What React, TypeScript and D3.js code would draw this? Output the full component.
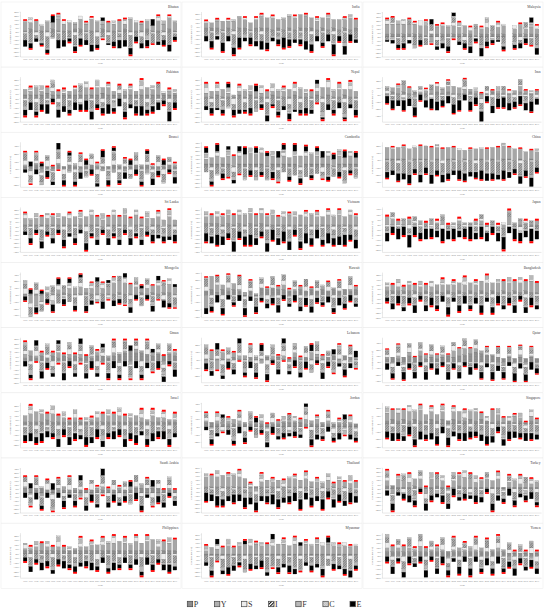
import * as d3 from 'd3';

const width = 550;
const height = 610;

const countries = [
  'Bhutan', 'India', 'Malaysia',
  'Pakistan', 'Nepal', 'Iran',
  'Brunei', 'Cambodia', 'China',
  'Sri Lanka', 'Vietnam', 'Japan',
  'Mongolia', 'Kuwait', 'Bangladesh',
  'Oman', 'Lebanon', 'Qatar',
  'Israel', 'Jordan', 'Singapore',
  'Saudi Arabia', 'Thailand', 'Turkey',
  'Philippines', 'Myanmar', 'Yemen',
];

const years = [
  '1990', '1991', '1992', '1993', '1994', '1995', '1996', '1997', '1998', '1999',
  '2000', '2001', '2002', '2003', '2004', '2005', '2006', '2007', '2008', '2009',
  '2010', '2011', '2012', '2013', '2014', '2015', '2016', '2017',
];

// one string per country, one char per year: 0-9 = +0..+9, a-i = -1..-9 (units of 2 %)
const pData = [
  '1211121 1122111 2111211 1211121', '2221212 2122212 1212221 2121212', '2222222 1222222 2212222 2022222',
  '2222322 2222222 3222222 2222222', '1121112 1211121 1121112 1211211', '1212121 1121211 1211121 1112111',
  '2232223 2322232 2232223 2322232', '2222212 2222122 2221222 2212222', '1111011 1010110 1011010 1101010',
  '1111111 1111111 0111101 1011011', '2221212 1212111 1111111 1111111', '0000000 0000000 0000000 000a0aa',
  '1111111 2111211 1112111 2121221', '3424343 a3a5454 4334343 4343434', '2222221 2121212 1212121 2121211',
  '2323232 3232323 3234565 5434343', '1111121 1211212 1121212 1231321', '3434545 3434545 6787654 3434343',
  '2222322 2222222 2222222 2222222', '3322222 2222222 3333222 2222222', '2323232 2323232 2323212 1212121',
  '3323222 2222222 2222223 3333222', '1111111 1111111 1111110 1010100', '2211121 1121112 1111111 1111111',
  '2222222 2222222 2222222 2222222', '1111111 1111111 1111111 1111111', '3333333 3333333 3333333 3222222',
];

const yData = [
  '5463547 4536475 3546375 4536475', '3345456 5456675 6778765 6756575', '6666665 6c45454 5243424 5035343',
  '3242322 1232434 3421232 3434121', '2324212 3232323 3424232 5434343', 'a3454b1 2343454 322c012 3b24201',
  '1a1b0a1 0a1b101 a0b1a10 1b0a101', '3454565 6767654 5456565 4545454', '8788889 9988887 6777889 9887666',
  '4345454 5454565 4565656 4545453', '4545565 6666565 5656565 5656565', '4322212 1212a12 1012a10 b412112',
  'afhe123 3445345 4589875 3456565', 'i953241 2a1b1a2 3a12a1b 2a1b012', '2322333 3334344 4445545 5555565',
  '2312a23 1212a12 a12a1b2 1a21b12', 'b5f4a32 2a1b121 2a31a42 2a1b0a1', '1a2b3a4 3232156 5432a1b c1a2b1a',
  '3454343 2121a12 4343323 2132211', '1a21232 1212a12 1212323 12a1a1a', '5656657 4545a56 2564a84 3a42a32',
  '1a1b0a1 2a1b0a1 21a1b21 2a1b010', '6767676 5cb3434 a554534 2525334', '3c54345 c544a46 6534545 a342323',
  '1124222 2a12233 3445435 4562546', '2434545 6565656 6565656 5654545', '2323213 2121a12 1212a12 1b1a1a1',
];

const sData = [
  'a2b1c0a 21b2a1c 0b1a2b1 c1a2b1a', '1a0a1b0 1a1b01a 0a1a0b1 a1b0a10', '21a2b13 a2b1a21 b2a13a2 102b1a2',
  'a1b1a2b 1a1b2a1 b1a2b1a 2b1a1b1', '3b2a1c2 b1a3b2a 1c2b1a2 b3a1b2a', '2a1b0a2 1b2a1b0 2a1c2b1 a2b1a1b',
  '3c2b4a3 c2b3a4c 2a3b2c3 a2b3c2a', '1b2a1c2 a1b2a1b 2a1b2a1 c2a1b2a', 'a1b0a1a 0a1b0a1 a0b1a0a 1a0b0a1',
  '2a1b2a1 b2a1c2a 1b2a1b2 a1b2a1b', '1a2b1a2 b1a2b1a 2b1a2b1 a2b1a2b', 'a1a0b1a 0a1b0a1 a0a1b0a 1a0b1a0',
  '4c3b2d3 a2b3a2c 3b2a3c2 b3a2c3b', '3b2c4a3 b2a3c2b 3a2b3c2 a3b2a3b', '1a2a1b1 a2a1b1a 2a1a2b1 a1a2b1a',
  '2b3a2c1 a3b2a1c 2a3b1a2 c3a2b1a', '3a2c3b2 a3b2c1a 3b2a3c2 b1a3b2a', '2c3b4a2 c3a2b4c 2a3c2b3 a2c4b2a',
  'a2b1a2b 1a2b1a2 b1a2b1a 2b1a2b1', '2a3b1a2 c1a2b3a 1b2a3b1 a2c1a2b', '1b2a3b1 a2c1b2a 3b1a2c1 b2a1b3a',
  '3b2a4c2 b3a2c4a 2b3c2a3 b2c3a2b', '1a2b1a2 a1b2a1b 2a1b2a1 b2a1b2a', '2a1b3a2 c1a2b1a 3b2a1c2 a1b3a2b',
  '2b1a2b3 a1b2a1c 2a3b1a2 b1a2c1a', '1a2b1a1 b2a1a2b 1a2b1a1 2b1a2b1', '3b2c1a3 b2a3c2b 1a3b2c3 a2b1a3c',
];

const iData = [
  'dfbegcd ecfbdge cdfbegc dbfecgb', 'cdbecfd bcedfcb dcebfdc ebdcfbd', 'b3dc2eb d4cbe3c bd2ec3b d0cb3de',
  'cbdca2b dcb3adc bca2dcb dbc2adb', 'dbecdbf cedbfce dbfcedb ecdbfcd', '2bd3ce1 b3dc2eb 4cbd3ec 2db3ce1',
  '4c3d2e4 c3d4b2e 3c4d2b3 e4c3d2b', 'cedbfcd ebdcfbe cdebfcd bedcfbd', 'fgeihfg ehgfieg fhegfih gefhgie',
  'cdbecdb ecdbfce bdcebdc ecbdcfb', 'dcebdfc bedcfbd cebfdcb edcfbed', 'b2a1b2c a1b2a0b a1b2a1b c2a1b1a',
  '3e4dc3f 2ed3fc4 e2d3fc2 e3dc2fe', '5d4e3c6 d4e3b5d 4c3e5d4 c3e4d5c', 'bcadbca cbdacbd acbdbca dbcadbc',
  '3c2d4b3 e2c3d4b 2d3c4e2 c3d2b3c', '4d3e2c5 d3e2c4d 3b2e3c4 d2e3c4b', '3d4c2e3 d4c3e2d 4b3d2e4 c3d2e3b',
  'cdbcadc bdcaedb cdabcdc bcdacbd', '2cd3be2 c3dbe2c d3cb2ed c2bd3ec', 'ecfdbge cfdbedc fbecgdb edcfbed',
  '3c4d2e3 b4c3d2e 4c3b2d4 e3c2d3b', 'cbdcebd bcdebcd ebcdbce dbcdecb', '2cb3dc2 bd3ce2b c3db2ec b2dc3be',
  'bdcbdec bdcebdc bedcbdc ebdcbed', 'dfcegdc fedcgfd ecgfdce fdcegfd', '3c2d4b3 c2e3b4c 2d3c4b2 e3c2d3b',
];

const fData = [
  '1a0b1a2 0a1b0a1 2a0b1a0 1b0a2a1', '0a1a0b1 a0a1a0b 1a0a1b0 a1a0b1a', '1a2a1b0 2a1b1a2 0a1b2a1 b0a1a2b',
  'a1a2a1b 1a0a1b2 a1b0a1a 2b1a0a1', '2a1b2a1 a2b1a2a 1b2a1a2 b1a2b1a', '0a1a0a1 b0a1a0a 1a0b0a1 a0a1b0a',
  '1a1b1a1 a1b1a1a 1b1a1a1 b1a1a1b', '2b1a2b1 a2b1a2b 1a2b1a2 b1a2b1a', 'a0a1a0a 0a1a0a0 a1a0a0a 1a0a0a1',
  '1b2a1b2 a1b2a1b 2a1b2a1 b2a1b2a', '2a1b2a1 b2a1b2a 1b2a1b2 a1b2a1b', '0a0a1a0 a0a1a0a 0a1a0a0 a1a0a0a',
  '2b1a2c1 a2b1a2b 1a2b1c2 a1b2a1b', '1a0a1a0 a1a0a1a 0a1a0a1 a0a1a0a', '1a2a1a2 a1a2a1a 2a1a2a1 a2a1a2a',
  '1b1a1b1 a1b1a1b 1a1b1a1 b1a1b1a', '2a1b2a1 b2a1b2a 1b2a1b2 a1b2a1b', '1a1a1a1 a1a1a1a 1a1a1a1 a1a1a1a',
  'a1b1a2b 1a2b1a1 b2a1b1a 2b1a1b2', '1b2a1b2 a1b2a1b 2a1b2a1 b2a1b2a', '2a1b1a2 b1a2a1b 2a1b1a2 b1a2a1b',
  '0a1a0a1 a0a1a0a 1a0a1a0 a1a0a1a', '1a2b1a2 b1a2b1a 2b1a2b1 a2b1a2b', '2b1a2b1 a2b1a2b 1a2b1a2 b1a2b1a',
  '1a2a1b2 a1b2a1a 2b1a2a1 b2a1a2b', '2a1b2a1 b2a1b2a 1b2a1b2 a1b2a1b', '1a1b1a1 b1a1b1a 1b1a1b1 a1b1a1b',
];

const cData = [
  '0100a01 00a0100 a010010 0a01000', '00a0010 a0010a0 010a001 00a0100', '0a01000 10a0010 0a00100 00a0010',
  'a010010 0a01001 00a0100 10a0010', '0010a00 100a001 0a01000 a010010', '100a010 0a0010a 0010a01 000a010',
  '0a10a01 0a10a01 0a10a01 0a10a01', '10a0100 a0100a0 100a010 0a0100a', '00a000a 000a000 a000a00 0a000a0',
  '010a010 0a010a0 10a010a 010a010', '0a010a0 10a010a 010a010 a010a01', 'a000a00 0a000a0 00a000a 000a000',
  '10a0010 a0100a0 0100a01 00a0100', '0a00100 a0010a0 0100a00 10a0010', '000a000 a000a00 0a000a0 00a000a',
  '1a0010a 010a001 0a010a0 0100a01', '0a01000 a010a00 100a010 a0010a0', 'a010a01 0a010a0 10a010a 010a010',
  '010a000 10a0010 a001000 a0100a0', '0a000a0 0100a00 0a0010a 0010a00', '100a010 a0010a0 010a001 a0100a0',
  '0a010a0 010a001 a0010a0 10a0010', '00a0010 a0010a0 0100a00 10a0010', 'a0010a0 010a001 0a0100a 0010a01',
  '010a001 0a010a0 01a0010 a0010a0', '0a0010a 00100a0 10a0010 a0100a0', '10a0010 a0100a0 010a001 0a010a0',
];

const eData = [
  'dcbab4e dbcdcdb 2aceddc cd4bcdb', 'cdbecdf bdcedbc fdbcedc bdfcedb', 'abbcb0c 03bcc2b cdbecba b0bcc3d',
  'cdbcebd cbdcedb cebdcbd ebcdbec', 'bcab2cb ac3bcab bcabcb2 acbcabc', 'efdgefd egfdefg dfegdef gedfegd',
  'b3c2db4 c2bd3cb 4c2bd3c b2dc3bd', '3b4c2b3 4c3b2d4 3b4c3b2 4b3c4b3', 'dcedfce dfcedcf ecdfedc fdcedfc',
  'bcbdbcb dbcbdbc bdbcbdb cbdbcbd', 'edfecfd efdcefd fecdfde cfdefce', 'dcedfdc edcfdec dfcedcd fcedcfd',
  'c3d2ce4 d3c2dc3 e2dc3dc 2cd3ec2', 'dcedcbd ecdbcde cbdcedc bdcecdb', 'bcdbcdb cdbcdbc dbcdbcd bcdbcdb',
  'cb3dcb2 dcb3cdb 2cdbc3d bc2dcbd', 'dc4bdc3 bdc4dbc 3bdcd4b dc3bdc4', 'edcfdec fdecfde cfdecfd ecfdefd',
  'cdcdcbd cdcbdcd cbdcdcd bcdcdcb', 'bcb2cbd cb3bcdb cbcb2dc bcbd3cb', 'dedcede cdedecd edcdedc dedcedc',
  'c3dbc4c dbc3cdb 4cdbc3d cb4dcbc', 'edfdced fdecdfe cdefdec fdedcfd', 'cdbcdcb dcbdcdb cbdcbdc bdcbcdb',
  'bcbdcbc dbcbcdb cbdbcbc bdcbcdb', 'bc3bdcb 2cbdb3c bdc2bcb d3cbcdb', 'cdbcdbc dbcdcbd cdcbdcd bcdcbdc',
];

// red end marks
const rData = [
  '1a1aa11 1aaa11a a1a11aa 1aa1a1a', '1a1a1aa 1a11a1a aa1a1a1 a1aa1a1', '11aa11a 1a11aa1 a1a1aa1 a0a1aa1',
  'a1aa1a1 1a1aa1a a1a1a1a 1aa1a1a', '1a1a1a1 aa1a1aa 1a1aa1a a1a1a1a', 'aa1a1aa 1a1a1aa 1aa1a1a a1aa1a1',
  '1a11a1a a1a11a1 1a1a11a a11a1a1', '1a1aa1a 1a1a1aa 1a1a1a1 aa1a1a1', 'a1a1aa1 a1a1a1a a1aa1a1 a1a1a1a',
  '1aa1a1a a1a1aa1 a1a1a1a 1aa1a1a', 'a1a1a1a aa1a1a1 a1aa1a1 a1a1aa1', '1a1a1aa 1a1a1a1 aa1a1a1 a1aa1a1',
  'a1a1aa1 a1a1a1a 1a1aa1a 1a1a1aa', '1a1a1a1 a1aa1a1 a1a1a1a a1a1aa1', 'a1a1a1a 1aa1a1a 1a1a1aa 1a1a1a1',
  '1aa1a1a 1a1a1a1 aa1a1a1 a1aa1a1', 'a1a1a1a a1a1aa1 a1a1a1a 1aa1a1a', '1a1aa1a 1a1a1a1 a1aa1a1 a1a1a1a',
  'a1aa1a1 a1a1a1a 1a1a1aa 1a1a1a1', '1a1a1a1 aa1a1a1 a1a1aa1 a1a1a1a', 'a1a1aa1 a1a1a1a 1aa1a1a 1a1a1a1',
  '1a1a1a1 a1aa1a1 a1a1a1a a1aa1a1', 'a1aa1a1 a1a1a1a 1a1a1a1 aa1a1a1', '1a1a1aa 1a1a1a1 a1a1aa1 a1a1a1a',
  'a1a1a1a 1aa1a1a 1a1a1a1 a1aa1a1', '1aa1a1a 1a1a1aa 1a1a1a1 a1a1a1a', 'a1a1a1a 1a1aa1a 1a1a1a1 aa1a1a1',
];

const legendKeys = ['P', 'Y', 'S', 'I', 'F', 'C', 'E'];
const keys = [...legendKeys, 'R'];

const decode = (s: string) =>
  s.replace(/ /g, '').split('').map(ch => (ch >= 'a' ? -(ch.charCodeAt(0) - 96) : +ch));

const series: Record<string, number[][]> = {
  P: pData.map(decode), Y: yData.map(decode), S: sData.map(decode), I: iData.map(decode),
  F: fData.map(decode), C: cData.map(decode), E: eData.map(decode), R: rData.map(decode),
};

const fills: Record<string, string> = {
  P: 'url(#patP)', Y: 'url(#patY)', S: '#ececec', I: 'url(#patI)',
  F: '#b8b8b8', C: 'url(#patC)', E: '#000000', R: '#ff0000',
};

function Panel({ idx }: { idx: number }) {
  const col = idx % 3;
  const row = Math.floor(idx / 3);
  const px = 1 + col * 181;
  const py = 4 + row * 65.15;
  const left = 21.5 + col * 181;
  const right = left + 157;
  const top = py + 8;
  const bottom = py + 53;

  const rows = years.map((yr, j) => {
    const o: any = { year: yr };
    keys.forEach(k => { o[k] = (series[k][idx][j] || 0) * 2; });
    return o;
  });
  const stacked = d3.stack<any>().keys(keys).offset(d3.stackOffsetDiverging)(rows);
  const lo = d3.min(stacked, s => d3.min(s, d => d[0])) ?? -10;
  const hi = d3.max(stacked, s => d3.max(s, d => d[1])) ?? 10;
  const y = d3.scaleLinear().domain([lo - 1, hi + 1]).range([bottom, top]);
  const x = d3.scaleBand().domain(years).range([left, right]).padding(0.3);
  const ticks = y.ticks(8);

  return (
    <g>
      <rect x={px} y={py - 2} width={180} height={65} fill="#fff" stroke="#e6e6e6" strokeWidth={0.4} />
      <text x={right} y={py + 4} fontSize={3.6} textAnchor="end" fill="#444" fontFamily="Liberation Serif">
        {countries[idx]}
      </text>
      <line x1={left - 1} x2={left - 1} y1={top} y2={bottom} stroke="#c8c8c8" strokeWidth={0.4} />
      <line x1={left - 1} x2={right + 1} y1={bottom} y2={bottom} stroke="#c8c8c8" strokeWidth={0.4} />
      {ticks.map(t => (
        <g key={t}>
          <line x1={left - 2} x2={left - 1} y1={y(t)} y2={y(t)} stroke="#bbb" strokeWidth={0.3} />
          <text x={left - 2.5} y={y(t) + 0.9} fontSize={2.6} textAnchor="end" fill="#666" fontFamily="Liberation Serif">
            {t}%
          </text>
        </g>
      ))}
      <text
        transform={`translate(${left - 11},${(top + bottom) / 2}) rotate(-90)`}
        fontSize={2.6} textAnchor="middle" fill="#666" fontFamily="Liberation Serif"
      >
        Contribution (%)
      </text>
      {stacked.map(s => (
        <g key={s.key} fill={fills[s.key]}>
          {s.map((d, j) => {
            const h = Math.abs(y(d[0]) - y(d[1]));
            if (h < 0.01) return null;
            return (
              <rect
                key={j}
                x={x(years[j])}
                y={Math.min(y(d[0]), y(d[1]))}
                width={x.bandwidth()}
                height={h}
                stroke={s.key === 'R' ? 'none' : '#4a4a4a'}
                strokeWidth={0.15}
              />
            );
          })}
        </g>
      ))}
      {years.map(yr => (
        <text key={yr} x={(x(yr) ?? 0) + x.bandwidth() / 2} y={py + 56.3} fontSize={2.2}
          textAnchor="middle" fill="#777" fontFamily="Liberation Serif">
          {yr}
        </text>
      ))}
      <text x={(left + right) / 2} y={py + 60.3} fontSize={2.8} textAnchor="middle" fill="#666" fontFamily="Liberation Serif">
        Year
      </text>
    </g>
  );
}

export default function App() {
  const legendX = d3.scalePoint().domain(legendKeys).range([187.3, 350]);
  return (
    <svg width={width} height={height} style={{ position: 'absolute', left: 0, top: 0, background: '#fff' }}>
      <defs>
        <pattern id="patP" width={1.6} height={1.6} patternUnits="userSpaceOnUse">
          <rect width={1.6} height={1.6} fill="#8a8a8a" />
          <rect width={0.6} height={0.6} fill="#a2a2a2" />
        </pattern>
        <pattern id="patY" width={1.5} height={1.5} patternUnits="userSpaceOnUse">
          <rect width={1.5} height={1.5} fill="#9f9f9f" />
          <path d="M0,0.75H1.5M0.75,0V1.5" stroke="#b6b6b6" strokeWidth={0.3} />
        </pattern>
        <pattern id="patI" width={1.2} height={1.2} patternUnits="userSpaceOnUse" patternTransform="rotate(45)">
          <rect width={1.2} height={1.2} fill="#b4b4b4" />
          <rect width={0.4} height={1.2} fill="#666" />
        </pattern>
        <pattern id="patC" width={1.6} height={1.6} patternUnits="userSpaceOnUse" patternTransform="rotate(-45)">
          <rect width={1.6} height={1.6} fill="#d6d6d6" />
          <rect width={0.3} height={1.6} fill="#999" />
        </pattern>
        <pattern id="patIL" width={2.4} height={2.4} patternUnits="userSpaceOnUse" patternTransform="rotate(45)">
          <rect width={2.4} height={2.4} fill="#ffffff" />
          <rect width={1.1} height={2.4} fill="#111" />
        </pattern>
        <pattern id="patYL" width={1.8} height={1.8} patternUnits="userSpaceOnUse">
          <rect width={1.8} height={1.8} fill="#9a9a9a" />
          <path d="M0,0.9H1.8M0.9,0V1.8" stroke="#d0d0d0" strokeWidth={0.4} />
        </pattern>
      </defs>
      {countries.map((c, i) => (
        <Panel key={c} idx={i} />
      ))}
      {legendKeys.map(k => {
        const lx = legendX(k) ?? 0;
        const f = k === 'I' ? 'url(#patIL)' : k === 'Y' ? 'url(#patYL)' : fills[k];
        return (
          <g key={k}>
            <rect x={lx} y={601.3} width={5.4} height={5.4} fill={f} stroke="#444" strokeWidth={0.7} />
            <text x={lx + 6.4} y={606.8} fontSize={8} fill="#333" fontFamily="Liberation Serif">{k}</text>
          </g>
        );
      })}
    </svg>
  );
}
